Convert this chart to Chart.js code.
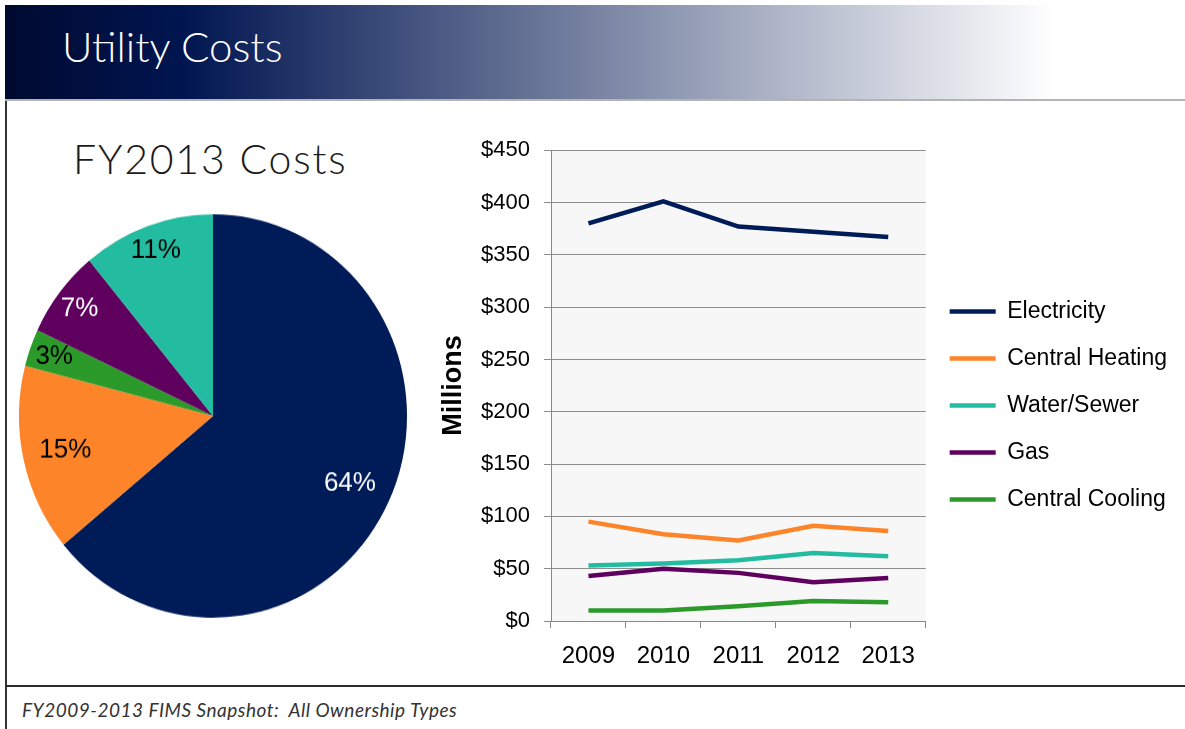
<!DOCTYPE html>
<html>
<head>
<meta charset="utf-8">
<title>Utility Costs</title>
<script src="https://cdn.jsdelivr.net/npm/chart.js@4.4.0/dist/chart.umd.min.js"></script>
<style>
  html, body { margin: 0; padding: 0; background: #fff; }
  body { width: 1185px; height: 729px; position: relative; overflow: hidden; font-family: Lato, "Open Sans", sans-serif; }
  #banner { position: absolute; left: 5px; top: 5px; width: 1180px; height: 94px;
    background: linear-gradient(to right, #000a30 0%, #001550 15%, #ffffff 89%, #ffffff 100%);
    border-bottom: 2px solid #b4b4b4; }
  #banner h1 { margin: 0; position: absolute; left: 57px; top: 16px; font-weight: 300; font-size: 42px; color: #fff; line-height: 1.2; }
  #frameLeft { position: absolute; left: 5px; top: 101px; width: 2px; height: 628px; background: #333; }
  #frameRule { position: absolute; left: 5px; top: 685px; width: 1180px; height: 2px; background: #2b2b2b; }
  #pieTitle { position: absolute; left: 73px; top: 134px; margin: 0; font-weight: 300; font-size: 41px; letter-spacing: 1.8px; color: #1a1a1a; line-height: 1.2; }
  #footer { position: absolute; left: 22px; top: 698px; font-style: italic; font-size: 19px; letter-spacing: 0.5px; color: #333; }
  #pieBox { position: absolute; left: 12px; top: 215px; width: 402px; height: 402px; transform: scaleY(1.04); transform-origin: 50% 50%; }
  #lineBox { position: absolute; left: 430px; top: 123px; width: 755px; height: 561px; }
</style>
</head>
<body>
<div id="banner"><h1>Utility Costs</h1></div>
<div id="frameLeft"></div>
<div id="frameRule"></div>
<div id="pieTitle">FY2013 Costs</div>
<div id="pieBox"><canvas id="pie"></canvas></div>
<div id="lineBox"><canvas id="lines"></canvas></div>
<div id="footer">FY2009-2013 FIMS Snapshot:&nbsp; All Ownership Types</div>

<script>
// FY2013 share of costs (pie, clockwise from the top)
const pieLabels = ["Electricity", "Central Heating", "Central Cooling", "Gas", "Water/Sewer"];
const pieShares = [64, 15, 3, 7, 11];

// yearly costs, $ millions
const years = ["2009", "2010", "2011", "2012", "2013"];
const electricity = [380, 401, 377, 372, 367];
const centralHeating = [95, 83, 77, 91, 86];
const waterSewer = [53, 55, 58, 65, 62];
const gas = [43, 50, 46, 37, 41];
const centralCooling = [10, 10, 14, 19, 18];
const yTickLabels = ["$0", "$50", "$100", "$150", "$200", "$250", "$300", "$350", "$400", "$450"];

// colours
const navy = "#001c58", orange = "#fd8428", teal = "#23bca0", purple = "#5f005f", green = "#2b9a2b";
const pieColors = [navy, orange, green, purple, teal];
const pieTextColors = ["#fff", "#000", "#000", "#fff", "#000"];

Chart.defaults.font.family = '"Liberation Sans", Arial, sans-serif';
Chart.defaults.color = "#000";

// percentage labels inside the slices
const sliceLabels = {
  id: "sliceLabels",
  afterDatasetsDraw(chart) {
    const ctx = chart.ctx;
    const meta = chart.getDatasetMeta(0);
    const total = pieShares.reduce((a, b) => a + b, 0);
    ctx.save();
    ctx.font = '26px "Liberation Sans", Arial, sans-serif';
    ctx.textAlign = "center";
    ctx.textBaseline = "middle";
    meta.data.forEach((arc, i) => {
      const p = arc.getProps(["x", "y", "startAngle", "endAngle", "outerRadius"], true);
      const mid = (p.startAngle + p.endAngle) / 2;
      const r = p.outerRadius * (pieShares[i] / total > 0.12 ? 0.78 : 0.87);
      ctx.fillStyle = pieTextColors[i];
      ctx.fillText(pieShares[i] + "%", p.x + Math.cos(mid) * r, p.y + Math.sin(mid) * r);
    });
    ctx.restore();
  }
};

new Chart(document.getElementById("pie"), {
  type: "pie",
  data: {
    labels: pieLabels,
    datasets: [{ data: pieShares, backgroundColor: pieColors, borderWidth: 0, hoverOffset: 0 }]
  },
  options: {
    responsive: true,
    maintainAspectRatio: false,
    animation: false,
    layout: { padding: 7 },
    plugins: { legend: { display: false }, tooltip: { enabled: false } }
  },
  plugins: [sliceLabels]
});

// light grey plot area
const plotBackground = {
  id: "plotBackground",
  beforeDraw(chart) {
    const { ctx, chartArea: a } = chart;
    ctx.save();
    ctx.fillStyle = "#f7f7f7";
    ctx.fillRect(a.left, a.top, a.right - a.left, a.bottom - a.top);
    ctx.restore();
  }
};

function series(label, data, color) {
  return { label, data, borderColor: color, backgroundColor: color, borderWidth: 4.5,
           pointRadius: 0, pointStyle: "line", tension: 0 };
}

new Chart(document.getElementById("lines"), {
  type: "line",
  data: {
    labels: years,
    datasets: [
      series("Electricity", electricity, navy),
      series("Central Heating", centralHeating, orange),
      series("Water/Sewer", waterSewer, teal),
      series("Gas", gas, purple),
      series("Central Cooling", centralCooling, green)
    ]
  },
  options: {
    responsive: true,
    maintainAspectRatio: false,
    animation: false,
    layout: { padding: { top: 17, right: 8, bottom: 13, left: 0 } },
    scales: {
      x: {
        offset: true,
        grid: { offset: true, drawOnChartArea: false, tickLength: 7, color: "#888" },
        border: { color: "#888" },
        ticks: { font: { size: 24 }, padding: 14, maxRotation: 0 },
        afterFit(scale) { scale.height = 50; }
      },
      y: {
        min: 0,
        max: 450,
        ticks: { stepSize: 50, font: { size: 22 }, padding: 14,
                 callback: (v, i) => yTickLabels[i] },
        grid: { color: "#8c8c8c", tickLength: 7 },
        border: { color: "#888" },
        title: { display: true, text: "Millions", font: { size: 27, weight: "bold" },
                 padding: { top: 7, bottom: 0 } },
        afterFit(scale) { scale.width = 121; }
      }
    },
    plugins: {
      legend: {
        position: "right",
        maxWidth: 320,
        labels: { usePointStyle: true, pointStyle: "line", pointStyleWidth: 46,
                  padding: 24, font: { size: 23 }, color: "#000" }
      },
      tooltip: { enabled: false }
    }
  },
  plugins: [plotBackground]
});
</script>
</body>
</html>
